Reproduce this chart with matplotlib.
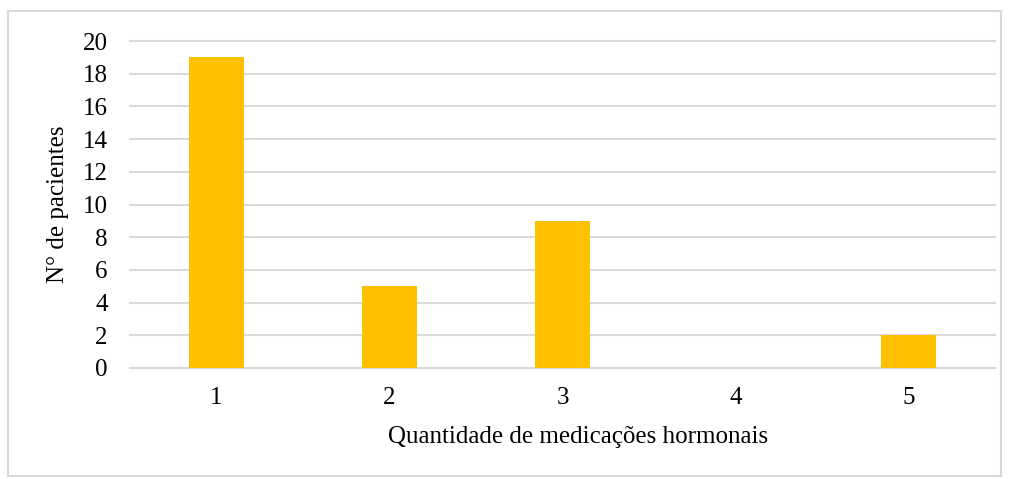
import matplotlib
matplotlib.use("Agg")
import matplotlib.pyplot as plt
import matplotlib.patches as mpatches
import numpy as np

categories = ["1", "2", "3", "4", "5"]
patients = [19, 5, 9, 0, 2]

BAR_COLOR = "#FFC000"
GRID_COLOR = "#D9D9D9"

plt.rcParams["font.family"] = ["Liberation Serif", "DejaVu Serif"]

W, H = 1009, 479
fig = plt.figure(figsize=(W / 100, H / 100), dpi=100)
ax = fig.add_axes([130 / W, 1 - 368 / H, 865 / W, 327 / H])

x = np.arange(len(categories))
ax.bar(x, patients, width=0.32, color=BAR_COLOR, zorder=3)

ax.set_xlim(-0.5, len(categories) - 0.5)
ax.set_ylim(0, 20)
ax.set_yticks(range(0, 21, 2))
ax.set_xticks(x)
ax.set_xticklabels(categories)
ax.yaxis.grid(True, color=GRID_COLOR, linewidth=1.5, zorder=0)
for gl in ax.get_ygridlines():
    gl.set_clip_on(False)
ax.set_axisbelow(True)

for s in ["top", "right", "left"]:
    ax.spines[s].set_visible(False)
ax.spines["bottom"].set_color(GRID_COLOR)
ax.spines["bottom"].set_linewidth(1.5)
ax.tick_params(axis="both", length=0, labelsize=18)
ax.tick_params(axis="y", pad=16)
ax.tick_params(axis="x", pad=14)

ax.set_xlabel("Quantidade de medicações hormonais", fontsize=18)
ax.xaxis.set_label_coords((578 - 130) / 865, -(426 - 368) / 327)
ax.set_ylabel("N° de pacientes", fontsize=18, labelpad=10)

# chart border
fig.patches.append(mpatches.Rectangle((8 / W, 1 - 476 / H), 993 / W, 465 / H,
                                      transform=fig.transFigure, fill=False,
                                      edgecolor=GRID_COLOR, linewidth=1.5))

plt.savefig("out.png", dpi=100)
